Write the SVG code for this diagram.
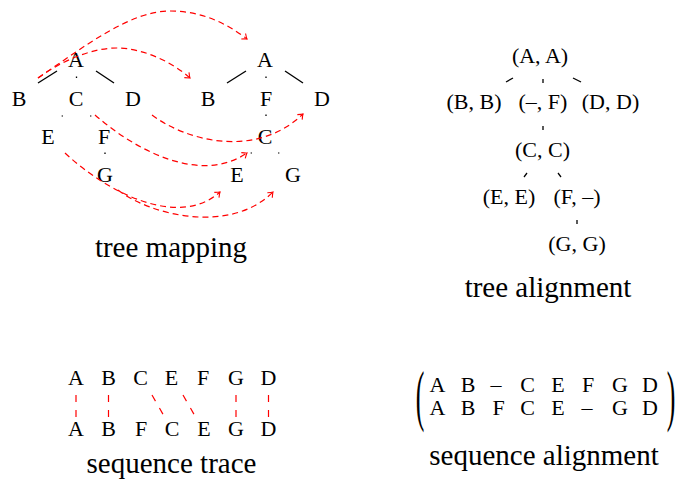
<svg xmlns="http://www.w3.org/2000/svg" width="677" height="483" viewBox="0 0 677 483">
<style>
.n{font-family:"Liberation Serif","Times New Roman",serif;font-size:22px;text-anchor:middle;fill:#000}
.lbl{font-family:"Liberation Serif","Times New Roman",serif;font-size:29px;text-anchor:middle;fill:#000}
.e{stroke:#000;stroke-width:1.3;fill:none}
.m{stroke:#f00;stroke-width:1.2;stroke-dasharray:6 4;fill:none}
.ma{marker-end:url(#arr)}
</style>
<defs>
<marker id="arr" markerUnits="userSpaceOnUse" markerWidth="12" markerHeight="12" refX="0" refY="0" viewBox="-6 -6 12 12" orient="auto">
<path d="M-4.5,-3.5 Q-1.5,-0.8 0,0 Q-1.5,0.8 -4.5,3.5" fill="none" stroke="#f00" stroke-width="1.1"/>
</marker>
</defs>

<!-- tree mapping: edges -->
<g id="tm-edges">
<line class="e" x1="38" y1="83" x2="57" y2="71"/>
<line class="e" x1="96" y1="71" x2="114" y2="83"/>
<line class="e" x1="76.5" y1="76.5" x2="76.5" y2="78"/>
<line class="e" x1="62.5" y1="115.5" x2="62" y2="116.5"/>
<line class="e" x1="90.5" y1="115.5" x2="91" y2="116.5"/>
<line class="e" x1="105" y1="152.5" x2="105" y2="154"/>
<line class="e" x1="227" y1="83" x2="246" y2="71"/>
<line class="e" x1="285" y1="71" x2="303" y2="83"/>
<line class="e" x1="266" y1="76.5" x2="266" y2="78"/>
<line class="e" x1="266" y1="114.5" x2="266" y2="116"/>
<line class="e" x1="251.5" y1="152.5" x2="251" y2="153.5"/>
<line class="e" x1="278.5" y1="152.5" x2="279" y2="153.5"/>
</g>

<!-- tree mapping: left tree nodes -->
<g id="L-A"><text class="n" x="76" y="67">A</text></g>
<g id="L-B"><text class="n" x="19" y="106">B</text></g>
<g id="L-C"><text class="n" x="76" y="106">C</text></g>
<g id="L-D"><text class="n" x="133" y="106">D</text></g>
<g id="L-E"><text class="n" x="48" y="144">E</text></g>
<g id="L-F"><text class="n" x="104" y="144">F</text></g>
<g id="L-G"><text class="n" x="105" y="182">G</text></g>
<!-- right tree nodes -->
<g id="R-A"><text class="n" x="265" y="67">A</text></g>
<g id="R-B"><text class="n" x="208" y="106">B</text></g>
<g id="R-F"><text class="n" x="266" y="106">F</text></g>
<g id="R-D"><text class="n" x="322" y="106">D</text></g>
<g id="R-C"><text class="n" x="265" y="144">C</text></g>
<g id="R-E"><text class="n" x="237" y="182">E</text></g>
<g id="R-G"><text class="n" x="293" y="182">G</text></g>

<!-- mapping connectors -->
<g id="mapping">
<path class="m ma" d="M38,78 C85,46 130,11 170,11 C200,11 225,22 247,39"/>
<path class="m ma" d="M38,78 C60,62 90,48 117,48 C140,48 170,60 190,78"/>
<path class="m ma" d="M152,115 C185,140 255,160 303,114"/>
<path class="m ma" d="M95,115 C135,150 200,185 247,153"/>
<path class="m ma" d="M65,153 C110,195 180,228 220,192"/>
<path class="m ma" d="M118,190 C150,215 230,235 273,192"/>
</g>
<g id="label-tm"><text class="lbl" x="171" y="257">tree mapping</text></g>

<!-- tree alignment -->
<g id="ta-edges">
<line class="e" x1="506" y1="82" x2="513" y2="78"/>
<line class="e" x1="543" y1="79" x2="543" y2="83"/>
<line class="e" x1="573" y1="78" x2="581" y2="82"/>
<line class="e" x1="543" y1="126" x2="543" y2="130"/>
<line class="e" x1="524" y1="177" x2="527" y2="173"/>
<line class="e" x1="558" y1="173" x2="561" y2="177"/>
<line class="e" x1="577" y1="220" x2="577" y2="224"/>
</g>
<g id="ta-AA"><text class="n" x="540" y="63">(A, A)</text></g>
<g id="ta-BB"><text class="n" x="474" y="108.5">(B, B)</text></g>
<g id="ta-xF"><text class="n" x="543" y="108.5">(–, F)</text></g>
<g id="ta-DD"><text class="n" x="610.5" y="108.5">(D, D)</text></g>
<g id="ta-CC"><text class="n" x="542.5" y="157">(C, C)</text></g>
<g id="ta-EE"><text class="n" x="509" y="204">(E, E)</text></g>
<g id="ta-Fx"><text class="n" x="577" y="204">(F, –)</text></g>
<g id="ta-GG"><text class="n" x="577" y="251">(G, G)</text></g>
<g id="label-ta"><text class="lbl" x="548" y="297">tree alignment</text></g>

<!-- sequence trace -->
<g id="st-top">
<text class="n" x="76" y="385">A</text>
<text class="n" x="108.5" y="385">B</text>
<text class="n" x="140.5" y="385">C</text>
<text class="n" x="171.5" y="385">E</text>
<text class="n" x="203" y="385">F</text>
<text class="n" x="236" y="385">G</text>
<text class="n" x="268.5" y="385">D</text>
</g>
<g id="st-bottom">
<text class="n" x="76" y="436">A</text>
<text class="n" x="108.5" y="436">B</text>
<text class="n" x="141" y="436">F</text>
<text class="n" x="172" y="436">C</text>
<text class="n" x="204" y="436">E</text>
<text class="n" x="236" y="436">G</text>
<text class="n" x="268.5" y="436">D</text>
</g>
<g id="trace">
<line class="m" style="stroke-dasharray:7 8" x1="76" y1="395" x2="76" y2="417"/>
<line class="m" style="stroke-dasharray:7 8" x1="108.5" y1="395" x2="108.5" y2="417"/>
<line class="m" style="stroke-dasharray:7 8" x1="152" y1="395" x2="164" y2="416"/>
<line class="m" style="stroke-dasharray:7 8" x1="183" y1="395" x2="195" y2="416"/>
<line class="m" style="stroke-dasharray:7 8" x1="236" y1="395" x2="236" y2="417"/>
<line class="m" style="stroke-dasharray:7 8" x1="268.5" y1="395" x2="268.5" y2="417"/>
</g>
<g id="label-st"><text class="lbl" x="171.5" y="473">sequence trace</text></g>

<!-- sequence alignment -->
<g id="sa">
<text class="n" style="font-size:68px" transform="translate(420,418) scale(0.38,1)" x="0" y="0">(</text>
<text class="n" style="font-size:68px" transform="translate(671,418) scale(0.38,1)" x="0" y="0">)</text>
<text class="n" x="437.5" y="392">A</text>
<text class="n" x="468" y="392">B</text>
<text class="n" x="496" y="392">–</text>
<text class="n" x="527.5" y="392">C</text>
<text class="n" x="558" y="392">E</text>
<text class="n" x="588" y="392">F</text>
<text class="n" x="620" y="392">G</text>
<text class="n" x="650" y="392">D</text>
<text class="n" x="437.5" y="415">A</text>
<text class="n" x="468" y="415">B</text>
<text class="n" x="498.5" y="415">F</text>
<text class="n" x="527.5" y="415">C</text>
<text class="n" x="558" y="415">E</text>
<text class="n" x="587" y="415">–</text>
<text class="n" x="620" y="415">G</text>
<text class="n" x="650" y="415">D</text>
</g>
<g id="label-sa"><text class="lbl" x="544" y="465">sequence alignment</text></g>
</svg>
